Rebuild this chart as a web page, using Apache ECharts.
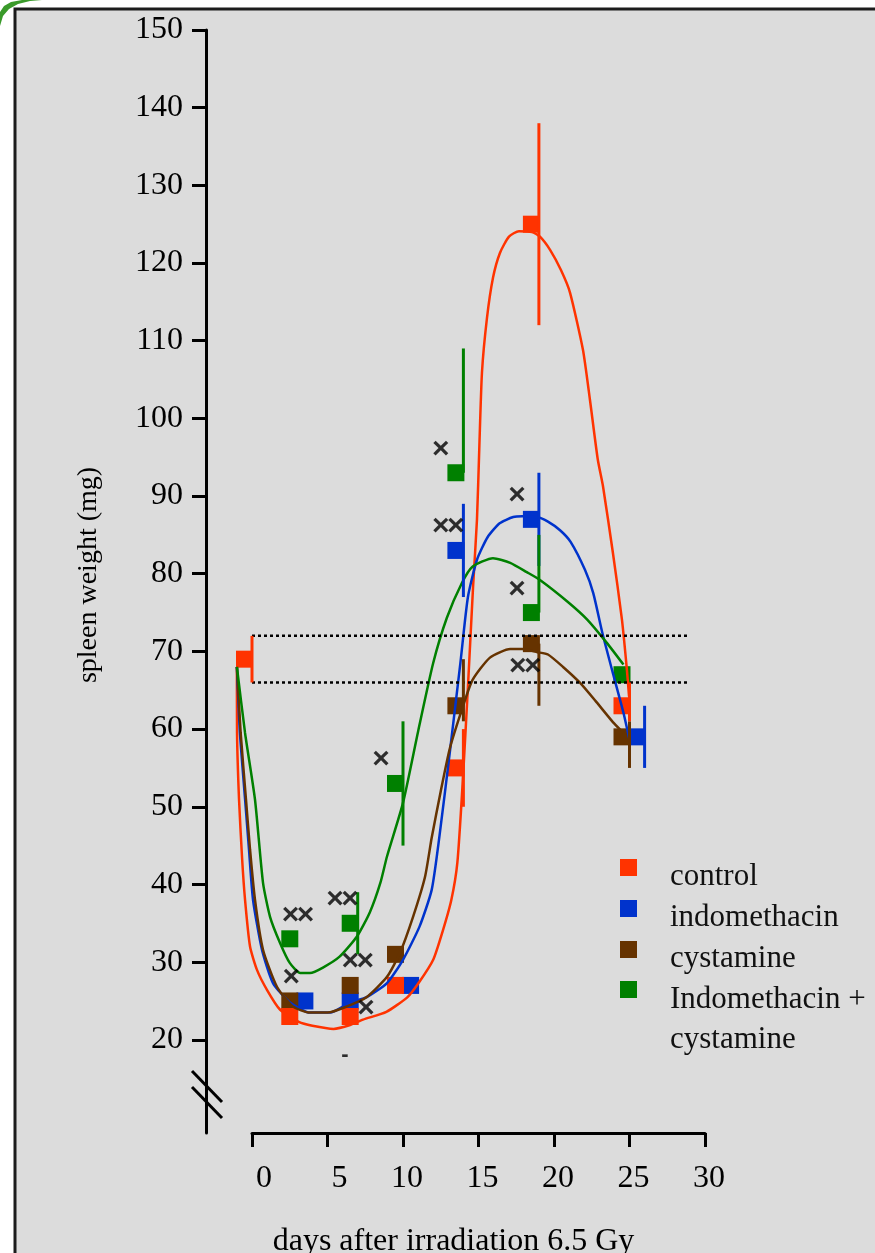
<!DOCTYPE html>
<html><head><meta charset="utf-8">
<script src="https://cdn.jsdelivr.net/npm/echarts@6/dist/echarts.min.js"></script>
<style>html,body{margin:0;padding:0;background:#fff}#c{width:875px;height:1253px}</style>
</head><body><div id="c"></div>
<script>
// ---------- data ----------
const seriesNames = ['control', 'indomethacin', 'cystamine', 'Indomethacin +\ncystamine'];
const xTickValues = [0, 5, 10, 15, 20, 25, 30];
const yTickValues = [20, 30, 40, 50, 60, 70, 80, 90, 100, 110, 120, 130, 140, 150];

// group means [day, spleen weight mg]
const controlPoints = [[0, 69], [3, 23], [7, 23], [10, 27], [14, 55], [19, 125], [25, 63]];
const indoPoints    = [[4, 25], [7, 25], [11, 27], [14, 83], [19, 87], [26, 59]];
const cystPoints    = [[3, 25], [7, 27], [10, 31], [14, 63], [19, 71], [25, 59]];
const comboPoints   = [[3, 33], [7, 35], [10, 53], [14, 93], [19, 75], [25, 67]];

// error bars [day, low, high]
const controlErr = [[0, 66, 72], [14, 50, 60], [19, 112, 138], [25, 61, 66]];
const indoErr    = [[14, 77, 89], [19, 81, 93], [26, 55, 63]];
const cystErr    = [[14, 61, 69], [19, 63, 71], [25, 55, 61]];
const comboErr   = [[7, 31, 39], [10, 45, 61], [14, 93, 109], [19, 75, 85]];

// fitted curves [day, value]
const controlCurve = [[-1, 68], [-0.99, 59.5], [-0.86, 51], [-0.66, 43.5], [-0.46, 38], [-0.13, 32], [0.33, 29], [1.0, 26.4], [1.85, 23.9], [3.1, 22.3], [4.0, 21.8], [5.4, 21.4], [6.5, 21.9], [7.35, 22.6], [8.9, 23.6], [10.3, 25.5], [11.1, 27.5], [12.0, 30.3], [12.6, 33.8], [13.2, 38.0], [13.6, 42.8], [13.95, 53], [14.3, 65.4], [14.64, 78.3], [14.9, 87], [15.05, 96], [15.23, 105.9], [15.56, 112.9], [15.96, 118.1], [16.42, 121.3], [17.02, 123.4], [17.68, 124.1], [18.54, 124.0], [19.07, 123.4], [19.74, 121.7], [20.46, 119.1], [21.06, 116.2], [21.92, 108.8], [22.38, 102.4], [22.9, 94.7], [23.25, 91.2], [23.9, 82.7], [24.5, 74.1], [24.83, 67.6], [24.97, 64.2]];
const indoCurve = [[-1, 68], [-0.8, 59.5], [-0.46, 51], [-0.2, 44.5], [0.07, 38], [0.66, 31.6], [1.39, 27.3], [2.52, 24.8], [3.84, 23.5], [5.17, 23.5], [6.5, 24.8], [7.6, 25.5], [8.94, 27.3], [10.0, 30.3], [11.1, 34.6], [11.9, 39.3], [12.4, 46], [13.1, 57], [13.8, 68.5], [14.3, 77], [14.9, 81.8], [15.6, 84.7], [16.4, 86.5], [17.3, 87.3], [17.9, 87.4], [18.9, 87.3], [19.6, 86.7], [20.4, 85.6], [21.1, 84.1], [22.05, 80.5], [22.6, 77.5], [23.2, 72.4], [23.9, 67.2], [24.6, 62.1], [25.0, 58.6]];
const cystCurve = [[-1, 68], [-0.75, 59.5], [-0.4, 51], [-0.13, 44.5], [0.2, 38], [0.73, 31.6], [1.66, 26.8], [2.7, 24.3], [3.84, 23.5], [5.0, 23.5], [6.3, 24.3], [7.6, 25.5], [8.94, 28.1], [9.8, 31.2], [10.66, 35.8], [11.46, 41], [11.9, 46], [12.5, 52], [13.1, 57.5], [13.9, 62.5], [14.6, 66.3], [15.76, 69.2], [17.1, 70.3], [17.9, 70.3], [18.9, 69.9], [19.6, 69.6], [20.6, 68], [21.7, 66], [22.8, 63.5], [23.9, 60.9], [24.4, 59.9]];
const comboCurve = [[-1, 68], [-0.46, 59.5], [0.2, 50.9], [0.73, 40.2], [1.2, 35.8], [1.85, 32.5], [2.5, 29.9], [3.2, 28.6], [3.84, 28.6], [4.7, 29.3], [5.8, 30.7], [6.95, 33.3], [7.8, 36.4], [8.5, 40.2], [8.94, 43.6], [10.0, 50.5], [11.0, 59.7], [12.0, 68.5], [12.9, 74.3], [13.9, 78.8], [14.6, 80.9], [15.96, 82.0], [17.1, 81.4], [18.2, 80.2], [19.07, 79.2], [20.9, 76.4], [22.2, 74.1], [23.5, 71.1], [24.6, 68.3]];

// control reference band (dotted lines)
const refHigh = [[0, 72], [29, 72]];
const refLow  = [[0, 66], [29, 66]];

// significance marks [day, value, text]
const sigMarks = [[3.05, 36, '××'], [2.6, 28, '×'], [6.0, 38, '××'], [7.0, 30, '××'], [7.55, 24, '×'], [6.16, 18, '-'], [8.54, 56, '×'], [12.5, 96, '×'], [13.0, 86, '××'], [17.55, 90, '×'], [17.55, 78, '×'], [18.1, 68, '××']];

// ---------- styles ----------
const colors = ['#ff3300', '#0033cc', '#663300', '#008000'];
const serif = 'Liberation Serif';
const pointsAll = [controlPoints, indoPoints, cystPoints, comboPoints];
const errAll = [controlErr, indoErr, cystErr, comboErr];
const curveAll = [controlCurve, indoCurve, cystCurve, comboCurve];
const squareOrder = [1, 2, 3, 0]; // blue underneath

const series = [];
squareOrder.forEach(i => {
  series.push({
    name: seriesNames[i], type: 'scatter', data: pointsAll[i], symbol: 'rect', symbolSize: 17,
    symbolOffset: [-7.5, 0], itemStyle: { color: colors[i], opacity: 1 }, z: 2, silent: true
  });
});
[0, 1, 2, 3].forEach(i => {
  series.push({
    name: seriesNames[i], type: 'line', data: curveAll[i], showSymbol: false, symbol: 'none',
    smooth: 0.2,
    lineStyle: { color: colors[i], width: 2.5 }, itemStyle: { color: colors[i] }, z: 3, silent: true
  });
});
[1, 2, 0, 3].forEach(i => {
  const col = colors[i];
  series.push({
    name: seriesNames[i], type: 'custom', data: errAll[i], z: 4, silent: true,
    encode: { x: 0, y: [1, 2] },
    renderItem: (params, api) => {
      const x = api.value(0);
      const p1 = api.coord([x, api.value(1)]);
      const p2 = api.coord([x, api.value(2)]);
      return { type: 'line', shape: { x1: p1[0], y1: p1[1], x2: p2[0], y2: p2[1] },
               style: { stroke: col, lineWidth: 3 } };
    }
  });
});
[refHigh, refLow].forEach(d => {
  series.push({
    type: 'line', data: d, showSymbol: false, symbol: 'none', silent: true, z: 3,
    lineStyle: { color: '#000', width: 2.5, type: [3, 3] }
  });
});
// one label per glyph so the glyphs can be set tight like the original
const sigData = [];
sigMarks.forEach(m => {
  const chars = Array.from(m[2]);
  chars.forEach((ch, k) => {
    const dx = (k - (chars.length - 1) / 2) * 15;
    sigData.push({
      value: [m[0], m[1]], name: ch,
      label: { offset: [dx, 0], fontSize: ch === '-' ? 22 : 30 }
    });
  });
});
series.push({
  type: 'scatter', silent: true, z: 5, symbolSize: 1, itemStyle: { color: 'rgba(0,0,0,0)' },
  data: sigData,
  label: { show: true, position: 'inside', formatter: '{b}', color: '#000',
           fontSize: 30, fontWeight: 'bold', fontFamily: 'Liberation Sans' }
});

const iconSingle = 'path://M0,0L17,0L17,17L0,17Z M0,34.99L17,34.99L17,35L0,35Z';
const iconDouble = 'path://M0,0L17,0L17,0.01L0,0.01Z M0,1.5L17,1.5L17,18.5L0,18.5Z M0,79.99L17,79.99L17,80L0,80Z';
const legendTops = [856.5, 897.5, 938.5, 979.5];
const legends = seriesNames.map((n, i) => ({
  data: [{ name: n, itemStyle: { color: colors[i] } }],
  left: 620, top: legendTops[i], padding: 0, orient: 'vertical',
  icon: i === 3 ? iconDouble : iconSingle, itemWidth: 17, itemHeight: i === 3 ? 80 : 35,
  selectedMode: false,
  textStyle: { fontFamily: serif, fontSize: 31, color: '#111', lineHeight: 40, padding: [0, 0, 0, 28] }
}));

const chart = echarts.init(document.getElementById('c'), null, { renderer: 'canvas' });
chart.setOption({
  animation: false,
  backgroundColor: '#ffffff',
  graphic: [
    { type: 'polygon', z: -20, shape: { points: [[0, 26], [3, 16], [9, 9], [18, 4], [30, 1], [42, 0], [22, 0], [11, 2], [4, 6], [0, 12]] }, style: { fill: '#3a9a2a' } },
    { type: 'rect', z: -10, shape: { x: 15, y: 9, width: 900, height: 1300 },
      style: { fill: '#dcdcdc', stroke: '#1c1c1c', lineWidth: 3 } },
    { type: 'line', z: 10, shape: { x1: 192, y1: 1071, x2: 222, y2: 1102 }, style: { stroke: '#000', lineWidth: 3 } },
    { type: 'line', z: 10, shape: { x1: 192, y1: 1087, x2: 222, y2: 1118 }, style: { stroke: '#000', lineWidth: 3 } }
  ],
  legend: legends,
  grid: [
    { left: 206, right: 170, top: 30, bottom: 120, containLabel: false, outerBoundsMode: 'none' },
    { left: 252, right: 170, top: 30, bottom: 120, containLabel: false, outerBoundsMode: 'none' }
  ],
  xAxis: [
    { type: 'value', gridIndex: 0, min: -3.046, max: 30, show: false },
    {
      type: 'value', gridIndex: 1, min: 0, max: 30, interval: 5,
      axisLine: { show: true, onZero: false, lineStyle: { color: '#000', width: 3 } },
      axisTick: { show: true, length: 14, lineStyle: { color: '#000', width: 3 } },
      splitLine: { show: false },
      axisLabel: {
        margin: 30, color: '#000',
        formatter: v => '{a|' + v + '}',
        rich: { a: { width: 40, align: 'right', fontFamily: serif, fontSize: 32, color: '#000' } }
      },
      name: 'days after irradiation 6.5 Gy', nameLocation: 'middle', nameGap: 93,
      nameTextStyle: { fontFamily: serif, fontSize: 32, color: '#000', padding: [0, 50, 0, 0] }
    }
  ],
  yAxis: [
    {
      type: 'value', gridIndex: 0, min: 8, max: 150,
      axisLine: { show: true, onZero: false, lineStyle: { color: '#000', width: 3 } },
      axisTick: { show: true, length: 14, customValues: yTickValues, lineStyle: { color: '#000', width: 3 } },
      splitLine: { show: false },
      axisLabel: { customValues: yTickValues, margin: 23, fontFamily: serif, fontSize: 32, color: '#000' },
      name: 'spleen weight (mg)', nameLocation: 'middle', nameGap: 103, nameRotate: 90,
      nameTextStyle: { fontFamily: serif, fontSize: 28, color: '#000', padding: [0, 0, 0, 13] }
    },
    { type: 'value', gridIndex: 1, min: 8, max: 150, show: false }
  ],
  series: series
});
</script>
</body></html>
